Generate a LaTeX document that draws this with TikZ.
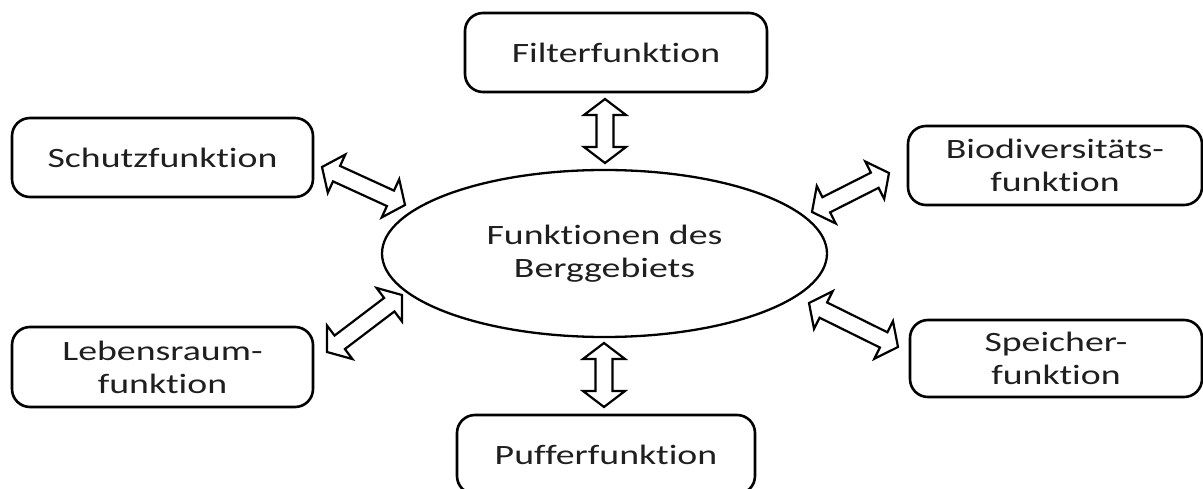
\documentclass[tikz,border=0pt]{standalone}
\usepackage{fontspec}
\setmainfont{Carlito}[FakeStretch=1.35, RawFeature=-liga]
\usetikzlibrary{shapes.geometric,calc}

% outline double-headed block arrow between two points
\newcommand\blkarrow[2]{%
  \draw[blockarrow]
    (#1)
    -- ($(#1)!\hl!(#2)!\hw!90:(#2)$)
    -- ($(#1)!\hl!(#2)!\sw!90:(#2)$)
    -- ($(#2)!\hl!(#1)!\sw!-90:(#1)$)
    -- ($(#2)!\hl!(#1)!\hw!-90:(#1)$)
    -- (#2)
    -- ($(#2)!\hl!(#1)!\hw!90:(#1)$)
    -- ($(#2)!\hl!(#1)!\sw!90:(#1)$)
    -- ($(#1)!\hl!(#2)!\sw!-90:(#2)$)
    -- ($(#1)!\hl!(#2)!\hw!-90:(#2)$)
    -- cycle;}
\def\hl{16pt}
\def\hw{21pt}
\def\sw{8.5pt}

\begin{document}
\begin{tikzpicture}[x=1pt,y=-1pt,
  every node/.style={font=\fontsize{28}{33}\selectfont, text=black!88},
  fbox/.style={draw, line width=2.6pt, rounded corners=18pt, align=center, inner sep=0pt},
  hub/.style={draw, ellipse, line width=2.3pt, align=center, inner sep=0pt,
    minimum width=445pt, minimum height=167pt},
  blockarrow/.style={draw, fill=white, line width=2.2pt, line join=miter}]
\useasboundingbox (0,0) rectangle (1203,489);

\node[hub] (hub) at (604.5,253.5) {Funktionen des\\Berggebiets};

\node[fbox, minimum width=302pt, minimum height=79pt] (filter) at (616,52.5) {Filterfunktion};
\node[fbox, minimum width=301pt, minimum height=79pt] (schutz) at (162.5,157.5) {Schutzfunktion};
\node[fbox, minimum width=301pt, minimum height=80pt] (leben) at (162.5,367) {Lebensraum-\\funktion};
\node[fbox, minimum width=294pt, minimum height=79pt] (bio) at (1055,165.5) {Biodiversitäts-\\funktion};
\node[fbox, minimum width=292pt, minimum height=77pt] (speicher) at (1056,358.5) {Speicher-\\funktion};
\node[fbox, minimum width=298pt, minimum height=79pt] (puffer) at (606,454.5) {Pufferfunktion};

% arrow end points between the boxes and the ellipse
\coordinate (f1) at (605,99);   \coordinate (f2) at (605,163);
\coordinate (p1) at (604,343);  \coordinate (p2) at (604,407);
\coordinate (s1) at (322,167);  \coordinate (s2) at (405,205);
\coordinate (l1) at (327,352);  \coordinate (l2) at (402,295);
\coordinate (b1) at (812,212);  \coordinate (b2) at (889,173);
\coordinate (m1) at (809,303);  \coordinate (m2) at (898,347);

\blkarrow{f1}{f2}
\blkarrow{p1}{p2}
\blkarrow{s1}{s2}
\blkarrow{l1}{l2}
\blkarrow{b1}{b2}
\blkarrow{m1}{m2}
\end{tikzpicture}
\end{document}
